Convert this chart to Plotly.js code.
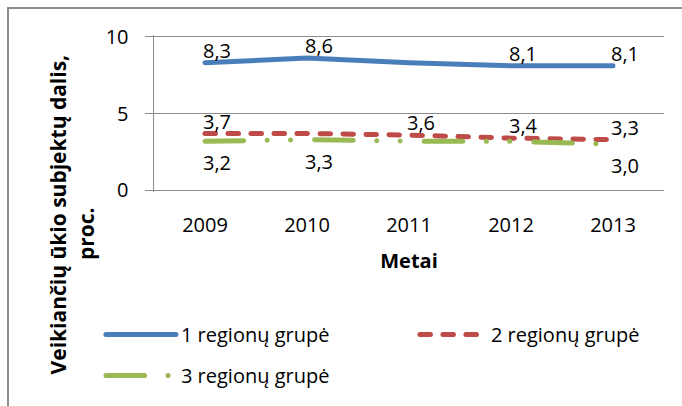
<!DOCTYPE html>
<html>
<head>
<meta charset="utf-8">
<script src="https://cdn.plot.ly/plotly-3.0.1.min.js"></script>
<style>
  html, body { margin: 0; padding: 0; background: #ffffff; overflow: hidden; }
  #frame { position: absolute; left: 7px; top: 7px; width: 800px; height: 600px;
           border-left: 2px solid #8c8c8c; border-top: 2px solid #8c8c8c; }
  #chart { position: absolute; left: 0; top: 0; width: 682px; height: 406px; }
  .scatterlayer .js-line, .legendlines path, .legendlines .js-line { stroke-linecap: round; }
</style>
</head>
<body>
<div id="frame"></div>
<div id="chart"></div>
<script>
// ---- data ----
const years = ['2009', '2010', '2011', '2012', '2013'];
const group1 = [8.3, 8.6, 8.3, 8.1, 8.1];
const group2 = [3.7, 3.7, 3.6, 3.4, 3.3];
const group3 = [3.2, 3.3, 3.2, 3.2, 3.0];
const group1Shown = [true, true, false, true, true];
const group2Shown = [true, false, true, true, true];
const group3Shown = [true, true, false, false, true];
const seriesNames = ['1 regionų grupė', '2 regionų grupė', '3 regionų grupė'];
const yTicks = [0, 5, 10];
const xTitle = 'Metai';
const yTitleLines = ['Veikiančių ūkio subjektų dalis,', 'proc.'];

// ---- styles ----
const FONT = '"Open Sans", Carlito, Calibri, sans-serif';
const FS = 20;
const colors = ['#4A7EBB', '#BE4B48', '#98B954'];
const fmt = v => v.toFixed(1).replace('.', ',');

const traces = [
  { x: years, y: group1, name: seriesNames[0], type: 'scatter', mode: 'lines',
    line: { color: colors[0], width: 5 }, legend: 'legend' },
  { x: years, y: group2, name: seriesNames[1], type: 'scatter', mode: 'lines',
    line: { color: colors[1], width: 5, dash: '10.5px,12.5px' }, legend: 'legend2' },
  { x: years, y: group3, name: seriesNames[2], type: 'scatter', mode: 'lines',
    line: { color: colors[2], width: 5, dash: '38.6px,23.5px,0.1px,23.3px,0.1px,24px' }, legend: 'legend3' }
];

function labels(vals, shown, above) {
  const out = [];
  vals.forEach((v, i) => {
    if (!shown[i]) return;
    out.push({
      x: i, y: v, xref: 'x', yref: 'y', text: fmt(v), showarrow: false,
      xanchor: 'center', yanchor: above ? 'bottom' : 'top',
      xshift: 12, yshift: above ? -3 : -6,
      font: { family: FONT, size: FS, color: '#000000' }
    });
  });
  return out;
}

const annotations = []
  .concat(labels(group1, group1Shown, true))
  .concat(labels(group2, group2Shown, true))
  .concat(labels(group3, group3Shown, false));

const pad = '\u00A0'.repeat(7);
annotations.push({
  text: yTitleLines[0] + '<br>' + yTitleLines[1] + pad,
  xref: 'paper', yref: 'paper', x: -0.16, y: -0.14,
  xanchor: 'center', yanchor: 'middle', textangle: -90, showarrow: false,
  font: { family: FONT, size: 21, color: '#000000', weight: 'bold' }
});

const legendCommon = {
  orientation: 'h', xref: 'container', yref: 'container',
  xanchor: 'left', yanchor: 'top',
  itemwidth: 70,
  font: { family: FONT, size: FS, color: '#000000' },
  bgcolor: 'rgba(0,0,0,0)'
};

const layout = {
  width: 682, height: 406,
  margin: { l: 154, r: 18, t: 34.5, b: 213.5 },
  paper_bgcolor: 'rgba(0,0,0,0)', plot_bgcolor: 'rgba(0,0,0,0)',
  font: { family: FONT, size: FS, color: '#000000' },
  showlegend: true,
  legend: Object.assign({}, legendCommon, { x: 0.148, y: 0.224 }),
  legend2: Object.assign({}, legendCommon, { x: 0.6084, y: 0.224, itemwidth: 66 }),
  legend3: Object.assign({}, legendCommon, { x: 0.148, y: 0.123 }),
  xaxis: {
    type: 'category', categoryorder: 'array', categoryarray: years,
    range: [-0.5, 4.5],
    showgrid: false, zeroline: false, showline: false, ticks: '',
    ticklabelstandoff: 19,
    tickfont: { family: FONT, size: FS, color: '#000000' },
    title: { text: xTitle, standoff: 16, font: { family: FONT, size: FS, color: '#000000', weight: 'bold' } },
    fixedrange: true
  },
  yaxis: {
    range: [-0.1, 10.1], tickvals: yTicks, ticktext: yTicks.map(String),
    showgrid: true, gridcolor: '#8c8c8c', gridwidth: 1.5,
    zeroline: false, showline: true, linecolor: '#8c8c8c', linewidth: 1.5,
    ticks: 'outside', ticklen: 8, tickcolor: '#8c8c8c', tickwidth: 1.5,
    ticklabelstandoff: 12,
    tickfont: { family: FONT, size: FS, color: '#000000' },
    fixedrange: true
  },
  annotations: annotations
};

Plotly.newPlot('chart', traces, layout, { staticPlot: true, displayModeBar: false });
</script>
</body>
</html>
